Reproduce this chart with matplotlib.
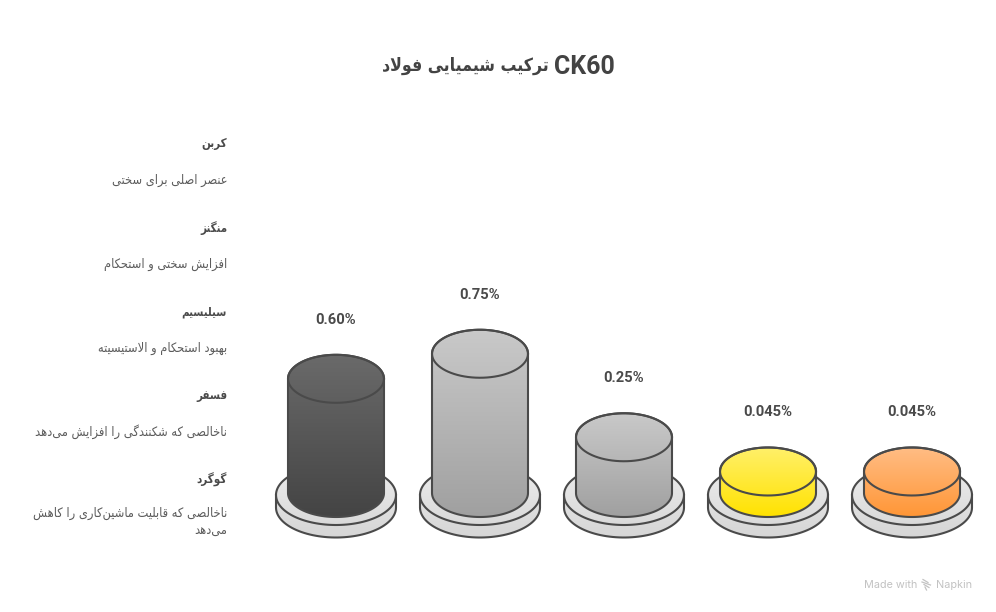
"""
CK60 steel composition - cylinders on plates, Persian labels on the left.
matplotlib does no Arabic shaping, so the text goes through a small shaper.
"""
import numpy as np
import matplotlib
matplotlib.use('Agg')
import matplotlib.pyplot as plt
from matplotlib.colors import LinearSegmentedColormap
from matplotlib.patches import PathPatch
from matplotlib.path import Path

# Data
title_code = 'CK60'
title_text = 'ترکیب شیمیایی فولاد'
element_names = ['کربن', 'منگنز', 'سیلیسیم', 'فسفر', 'گوگرد']
element_notes = [
    ['عنصر اصلی برای سختی'],
    ['افزایش سختی و استحکام'],
    ['بهبود استحکام و الاستیسیته'],
    ['ناخالصی که شکنندگی را افزایش می\u200cدهد'],
    ['ناخالصی که قابلیت ماشین\u200cکاری را کاهش', 'می\u200cدهد'],
]
percent_values = [0.60, 0.75, 0.25, 0.045, 0.045]
percent_labels = ['0.60%', '0.75%', '0.25%', '0.045%', '0.045%']

# Styles
ink = '#4a4a4a'
bar_colors = [('#6a6a6a', '#444444'), ('#c9c9c9', '#a0a0a0'), ('#c9c9c9', '#a0a0a0'),
              ('#fff06a', '#ffe200'), ('#ffbd85', '#ff9636')]
plate_colors = ('#ededed', '#d6d6d6')
latin_font = ['Roboto', 'DejaVu Sans']
persian_font = ['DejaVu Sans']

# Persian shaping: letter -> (isolated, final, initial, medial)
two = {'ا': 0xFE8D, 'د': 0xFEA9, 'ذ': 0xFEAB, 'ر': 0xFEAD, 'ز': 0xFEAF, 'ژ': 0xFB8A, 'و': 0xFEED}
four = {'ب': 0xFE8F, 'پ': 0xFB56, 'ت': 0xFE95, 'ث': 0xFE99, 'ج': 0xFE9D, 'چ': 0xFB7A,
        'ح': 0xFEA1, 'خ': 0xFEA5, 'س': 0xFEB1, 'ش': 0xFEB5, 'ص': 0xFEB9, 'ض': 0xFEBD,
        'ط': 0xFEC1, 'ظ': 0xFEC5, 'ع': 0xFEC9, 'غ': 0xFECD, 'ف': 0xFED1, 'ق': 0xFED5,
        'ک': 0xFB8E, 'گ': 0xFB92, 'ل': 0xFEDD, 'م': 0xFEE1, 'ن': 0xFEE5, 'ه': 0xFEE9,
        'ی': 0xFBFC}


def shape_word(word):
    """Logical Persian word -> presentation forms in visual (left to right) order"""
    word = word.replace('لا', '\uFEFB')
    out = []
    for i, ch in enumerate(word):
        if ch == '\u200c':
            continue
        prev = word[i - 1] if i else ''
        nxt = word[i + 1] if i + 1 < len(word) else ''
        joins_prev = prev in four
        joins_next = nxt in four or nxt in two or nxt == '\uFEFB'
        if ch == '\uFEFB':
            out.append('\uFEFC' if joins_prev else '\uFEFB')
        elif ch in two:
            out.append(chr(two[ch] + (1 if joins_prev else 0)))
        elif ch in four:
            offset = {(False, False): 0, (True, False): 1, (False, True): 2, (True, True): 3}
            out.append(chr(four[ch] + offset[(joins_prev, joins_next)]))
        else:
            out.append(ch)
    return ''.join(reversed(out))


def rtl(text):
    """Whole line in visual order"""
    return ' '.join(shape_word(w) for w in reversed(text.split(' ')))


def bar_height(value):
    return 14 + 167 * value


def capsule(cx, y_top, y_bottom, rx, ry):
    """Outline of an upright cylinder seen from above"""
    t = np.linspace(np.pi, 2 * np.pi, 60)
    upper = np.column_stack([cx + rx * np.cos(t), y_top + ry * np.sin(t)])
    t = np.linspace(0, np.pi, 60)
    lower = np.column_stack([cx + rx * np.cos(t), y_bottom + ry * np.sin(t)])
    pts = np.vstack([upper, lower, upper[:1]])
    return Path(pts, closed=True)


def gradient_shape(ax, path, colors, z):
    """Vertical gradient clipped to the path, then the outline on top"""
    cmap = LinearSegmentedColormap.from_list('g', colors)
    box = path.get_extents()
    im = ax.imshow(np.linspace(0, 1, 200).reshape(-1, 1), cmap=cmap, aspect='auto',
                   extent=(box.x0, box.x1, box.y1, box.y0), zorder=z, interpolation='bilinear')
    im.set_clip_path(PathPatch(path, transform=ax.transData))
    ax.add_patch(PathPatch(path, facecolor='none', edgecolor=ink, linewidth=1.5, zorder=z + 0.1))


def ellipse_edge(ax, cx, cy, rx, ry, z):
    t = np.linspace(0, 2 * np.pi, 160)
    ax.plot(cx + rx * np.cos(t), cy + ry * np.sin(t), color=ink, linewidth=1.5, zorder=z)


fig, ax = plt.subplots(figsize=(9.96, 6.12), dpi=100, facecolor='white')
ax.set_position([0, 0, 1, 1])

# Cylinders on their plates
bar_x = [336, 480, 624, 768, 912]
base_y = 493
for i, value in enumerate(percent_values):
    cx = bar_x[i]
    z = 2 + i
    gradient_shape(ax, capsule(cx, 495, 507.5, 60, 30), plate_colors, z)
    ax.plot(cx + 60 * np.cos(np.linspace(0, np.pi, 80)),
            495 + 30 * np.sin(np.linspace(0, np.pi, 80)),
            color=ink, linewidth=1.5, zorder=z + 0.2)
    top_y = base_y - bar_height(value)
    gradient_shape(ax, capsule(cx, top_y, base_y, 48, 24), bar_colors[i], z + 0.3)
    ellipse_edge(ax, cx, top_y, 48, 24, z + 0.5)
    ax.text(cx, top_y - 59, percent_labels[i], ha='center', va='center',
            fontsize=10.6, fontweight='bold', family=latin_font, color=ink)

# Left hand list
name_y = [144, 228, 312, 396, 480]
note_y = [180, 264, 348, 432, 513]
for name, notes, y0, y1 in zip(element_names, element_notes, name_y, note_y):
    ax.text(227, y0, rtl(name), ha='right', va='center', fontsize=8.3, stretch='condensed',
            fontweight='bold', family=persian_font, color=ink)
    for k, line in enumerate(notes):
        ax.text(227, y1 + k * 18, rtl(line), ha='right', va='center', fontsize=9.2,
                stretch='condensed', family=persian_font, color='#5c5c5c')

# Title
ax.text(615, 67, title_code, ha='right', va='center', fontsize=18,
        fontweight='bold', family=latin_font, color='#434343')
ax.text(549, 66, rtl(title_text), ha='right', va='center', fontsize=12.7, stretch='condensed',
        fontweight='bold', family=persian_font, color='#434343')

# Watermark
ax.text(917, 585, 'Made with', ha='right', va='center', fontsize=7.8,
        family='Inter', color='#c2c2c2')
ax.text(972, 585, 'Napkin', ha='right', va='center', fontsize=7.8,
        family='Inter', color='#c2c2c2')
for dy, x0 in zip((-4, -1.5, 1, 3.5), (923, 922, 924, 925)):
    ax.plot([x0, 931 - abs(dy + 1)], [585 + dy - 1.5, 585 + dy + 1.5], color='#c2c2c2', linewidth=0.9)

ax.set_xlim(0, 996)
ax.set_ylim(612, 0)
ax.axis('off')

fig.savefig('out.png', dpi=100, facecolor='white')
